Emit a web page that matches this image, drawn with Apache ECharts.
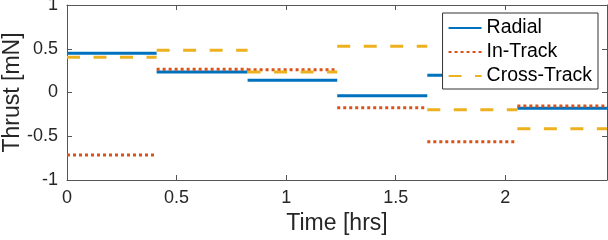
<!DOCTYPE html>
<html>
<head>
<meta charset="utf-8">
<script src="https://cdn.jsdelivr.net/npm/echarts@6/dist/echarts.min.js"></script>
<style>html,body{margin:0;padding:0;background:#fff;}#c{width:608px;height:240px;}</style>
</head>
<body>
<div id="c"></div>
<script>
// Segment boundaries (hrs)
var edges = [0, 0.409, 0.824, 1.233, 1.644, 2.055, 2.464];
var seriesNames = ['Radial', 'In-Track', 'Cross-Track'];
var radial = [0.448, 0.234, 0.139, -0.037, 0.197, -0.181];
var inTrack = [-0.714, 0.265, 0.261, -0.174, -0.562, -0.154];
var crossTrack = [0.402, 0.482, 0.234, 0.528, -0.197, -0.414];
var xTicks = [0, 0.5, 1, 1.5, 2];
var yTicks = [-1, -0.5, 0, 0.5, 1];

function steps(vals) {
  var d = [];
  for (var i = 0; i < vals.length; i++) {
    d.push([edges[i], vals[i]]);
    d.push([edges[i + 1], vals[i]]);
    d.push([edges[i + 1], '-']);
  }
  return d;
}

var txt = '#262626';
var axisCol = '#555';
var font = 'Liberation Sans';
var chart = echarts.init(document.getElementById('c'), null, {renderer: 'canvas'});
var styles = [
  {color: '#0072BD', type: 'solid'},
  {color: '#D95319', type: [3, 3]},
  {color: '#EDB120', type: [13, 13.5]}
];
var datas = [radial, inTrack, crossTrack];
var series = datas.map(function (v, i) {
  return {
    name: seriesNames[i], type: 'line', data: steps(v), symbol: 'none', showSymbol: false,
    connectNulls: false, animation: false,
    lineStyle: {color: styles[i].color, width: 3, type: styles[i].type},
    itemStyle: {color: styles[i].color}
  };
});

var xmin = edges[0], xmax = edges[edges.length - 1];
chart.setOption({
  animation: false,
  grid: {left: 67, right: 1, top: 5, bottom: 60, show: false, containLabel: false, outerBoundsMode: 'none'},
  legend: {
    data: seriesNames,
    orient: 'vertical', right: 10, top: 13,
    itemWidth: 33, itemHeight: 20, itemGap: 4,
    padding: [5, 6, 3, 5],
    itemStyle: {opacity: 0},
    backgroundColor: '#fff', borderColor: '#333', borderWidth: 1,
    textStyle: {fontFamily: font, fontSize: 19.5, color: '#000'},
    selectedMode: false
  },
  xAxis: [{
    type: 'value', min: xmin, max: xmax, interval: 0.5,
    name: 'Time [hrs]', nameLocation: 'middle', nameGap: 32, nameMoveOverlap: false,
    nameTextStyle: {fontFamily: font, fontSize: 23, color: txt},
    axisLine: {show: true, onZero: false, lineStyle: {color: axisCol}},
    axisTick: {show: true, inside: true, length: 5, lineStyle: {color: axisCol}},
    axisLabel: {fontFamily: font, fontSize: 18, color: txt, margin: 9, showMaxLabel: false,
      formatter: function (v) { return xTicks.indexOf(v) >= 0 ? String(v) : ''; }},
    splitLine: {show: false}
  }, {
    type: 'value', min: xmin, max: xmax, interval: 0.5, position: 'top',
    axisLine: {show: true, onZero: false, lineStyle: {color: axisCol}},
    axisTick: {show: true, inside: true, length: 5, lineStyle: {color: axisCol}},
    axisLabel: {show: false}, splitLine: {show: false}
  }],
  yAxis: [{
    type: 'value', min: -1, max: 1, interval: 0.5,
    name: 'Thrust [mN]', nameLocation: 'middle', nameGap: 43, nameMoveOverlap: false,
    nameTextStyle: {fontFamily: font, fontSize: 23, color: txt},
    axisLine: {show: true, onZero: false, lineStyle: {color: axisCol}},
    axisTick: {show: true, inside: true, length: 5, lineStyle: {color: axisCol}},
    axisLabel: {fontFamily: font, fontSize: 18, color: txt, margin: 9,
      formatter: function (v) { return yTicks.indexOf(v) >= 0 ? String(v) : ''; }},
    splitLine: {show: false}
  }, {
    type: 'value', min: -1, max: 1, interval: 0.5, position: 'right',
    axisLine: {show: true, onZero: false, lineStyle: {color: axisCol}},
    axisTick: {show: true, inside: true, length: 5, lineStyle: {color: axisCol}},
    axisLabel: {show: false}, splitLine: {show: false}
  }],
  series: series
});
</script>
</body>
</html>
